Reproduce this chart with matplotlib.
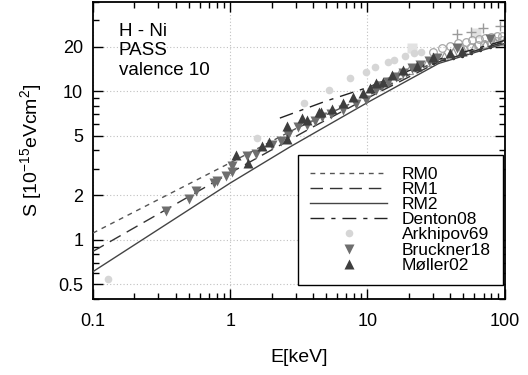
import matplotlib
matplotlib.use("Agg")
import matplotlib.pyplot as plt
from matplotlib.ticker import FixedLocator, LogLocator, NullFormatter, FuncFormatter
import numpy as np

plt.rcParams['font.family'] = ['Liberation Sans', 'DejaVu Sans']
plt.rcParams['mathtext.fontset'] = 'custom'
plt.rcParams['mathtext.rm'] = 'Liberation Sans'
plt.rcParams['mathtext.it'] = 'Liberation Sans'

# ---- model curves ----
rm0_E = [0.1, 1, 3, 10, 30, 100]
rm0_S = [1.11, 3.3, 5.6, 9.3, 15.6, 21.5]
rm1_E = [0.1, 1, 4, 10, 33, 100]
rm1_S = [0.835, 2.82, 5.75, 9.0, 15.8, 21.5]
rm2_E = [0.1, 1, 2.7, 10, 33, 100]
rm2_S = [0.61, 2.41, 4.2, 8.4, 15.4, 21.0]
den_E = [2.3, 5, 10, 30, 100]
den_S = [6.6, 8.6, 10.6, 16.0, 22.0]

# ---- experimental data ----
ark_E = [0.128, 1.57, 3.47, 5.2, 7.5, 9.7, 11.4, 14.0, 15.7, 18.9, 21.7, 24.4]
ark_S = [0.547, 4.84, 8.3, 10.2, 12.2, 13.4, 14.5, 15.7, 16.3, 17.2, 18.0, 18.3]

bru_E = [0.341, 0.502, 0.565, 0.764, 0.80, 0.93, 1.03, 1.03, 1.33, 1.55, 2.03, 2.35,
         2.62, 3.13, 3.65, 4.17, 4.7, 5.45, 6.6, 8.3, 9.8, 11.6, 12.5, 14, 16, 18,
         21, 24, 28, 32, 45, 78]
bru_S = [1.57, 1.88, 2.13, 2.41, 2.49, 2.69, 2.86, 3.14, 3.66, 3.78, 4.34, 4.6,
         5.07, 5.73, 5.9, 6.3, 6.7, 7.0, 7.45, 8.2, 8.7, 10.2, 10.8, 11.5, 12.5, 13.3,
         14.3, 15.0, 16.0, 16.7, 19.7, 22.4]

mol_E = [1.1, 1.35, 1.71, 1.93, 2.6, 2.6, 3.36, 3.6, 4.46, 4.6, 5.56, 6.6, 7.8,
         9.2, 10.4, 11.6, 12.9, 15.2, 18, 22.8, 29.8, 39.6, 49]
mol_S = [3.7, 3.3, 4.27, 4.55, 5.8, 4.8, 6.6, 6.4, 7.3, 7.24, 7.6, 8.4, 9.1,
         9.7, 10.5, 11.3, 11.5, 12.8, 13.9, 14.9, 16.9, 18.0, 18.8]

# other (unlabelled) data sets
tri_E = [12, 14, 17, 20, 23, 27, 31, 36, 42, 50, 60, 72, 85, 98]
tri_S = [11.0, 11.8, 13.0, 14.0, 14.8, 15.8, 16.6, 17.4, 18.3, 19.1, 20.0, 20.8, 21.4, 21.8]
circ_E = [30, 35, 40, 46, 52, 58, 65, 72, 80, 88, 96, 50, 57, 64, 71, 79, 87, 95]
circ_S = [18.5, 19.5, 20.3, 21.0, 21.6, 22.0, 22.5, 22.8, 23.2, 23.4, 23.6,
          19.2, 19.8, 20.4, 20.9, 21.3, 21.7, 22.0]
plus_E = [44.6, 57, 69, 92]
plus_S = [24.2, 25.2, 26.8, 27.6]
sq_E = [21, 62]
sq_S = [19.5, 24.5]
dot_E = [25, 30, 36, 42, 49, 57, 66, 78]
dot_S = [15.0, 15.6, 16.5, 16.8, 17.2, 18.0, 19.0, 19.8]

fig = plt.figure(figsize=(5.28, 3.75), dpi=100)
ax = fig.add_axes([0.176, 0.203, 0.780, 0.792])

# unlabelled sets first (background)
ax.plot(sq_E, sq_S, 's', color='#e2e2e2', ms=7, mec='none', zorder=2)
ax.plot(circ_E, circ_S, 'o', mfc='none', mec='#a8a8a8', ms=5.5, mew=0.9, zorder=2)
ax.plot(tri_E, tri_S, '^', mfc='none', mec='#9a9a9a', ms=6, mew=0.9, zorder=2)
ax.plot(plus_E, plus_S, '+', color='#9a9a9a', ms=7, mew=1.0, zorder=2)
ax.plot(dot_E, dot_S, '.', color='#303030', ms=3, zorder=2)

l0, = ax.plot(rm0_E, rm0_S, color='#555555', lw=1.0, ls=(0, (3.5, 3.5)), label='RM0', zorder=3)
l1, = ax.plot(rm1_E, rm1_S, color='#333333', lw=1.0, ls=(0, (9, 5)), label='RM1', zorder=3)
l2, = ax.plot(rm2_E, rm2_S, color='#444444', lw=1.0, ls='-', label='RM2', zorder=3)
l3, = ax.plot(den_E, den_S, color='#222222', lw=1.0, ls=(0, (10, 5, 3, 5)), label='Denton08', zorder=3)

m1, = ax.plot(ark_E, ark_S, 'o', color='#d6d6d6', ms=5.5, mec='none', label='Arkhipov69', zorder=4)
m2, = ax.plot(bru_E, bru_S, 'v', color='#6e6e6e', ms=7, mec='none', label='Bruckner18', zorder=5)
m3, = ax.plot(mol_E, mol_S, '^', color='#3e3e3e', ms=7, mec='none', label='Møller02', zorder=5)

ax.set_xscale('log')
ax.set_yscale('log')
ax.set_xlim(0.1, 100)
ax.set_ylim(0.4, 40)

ax.xaxis.set_major_locator(FixedLocator([0.1, 1, 10, 100]))
ax.xaxis.set_major_formatter(FuncFormatter(lambda v, p: f"{v:g}"))
ax.xaxis.set_minor_locator(LogLocator(base=10, subs=np.arange(2, 10)))
ax.xaxis.set_minor_formatter(NullFormatter())
ax.yaxis.set_major_locator(FixedLocator([0.5, 1, 2, 5, 10, 20]))
ax.yaxis.set_major_formatter(FuncFormatter(lambda v, p: f"{v:g}"))
ax.yaxis.set_minor_locator(LogLocator(base=10, subs=np.arange(2, 10)))
ax.yaxis.set_minor_formatter(NullFormatter())

ax.tick_params(which='both', direction='in', top=True, right=True, width=1.0, colors='black')
ax.tick_params(which='major', length=7, labelsize=13)
ax.tick_params(axis='x', which='major', pad=10)
ax.tick_params(axis='y', which='major', pad=7)
ax.tick_params(which='minor', length=4.5)
for s in ax.spines.values():
    s.set_linewidth(1.3)

ax.grid(True, which='major', ls=(0, (1, 2)), color='#c0c0c0', lw=0.8)
ax.set_axisbelow(True)

ax.set_xlabel('E[keV]', fontsize=14, labelpad=14)
ax.set_ylabel(r'S [10$^{\mathregular{-15}}$eVcm$^{\mathregular{2}}$]', fontsize=14, labelpad=10)

ax.text(0.063, 0.93, 'H - Ni\nPASS\nvalence 10', transform=ax.transAxes,
        fontsize=13.5, va='top', ha='left', linespacing=1.2)

leg = ax.legend(handles=[l0, l1, l2, l3, m1, m2, m3], loc='lower right',
                bbox_to_anchor=(0.995, 0.047), fontsize=12.5, frameon=True,
                fancybox=False, edgecolor='black', framealpha=1, handlelength=4.4,
                handletextpad=0.85, labelspacing=0.0, borderpad=0.7, borderaxespad=0)
leg.get_frame().set_linewidth(1.0)

fig.savefig('out.png', dpi=100)
